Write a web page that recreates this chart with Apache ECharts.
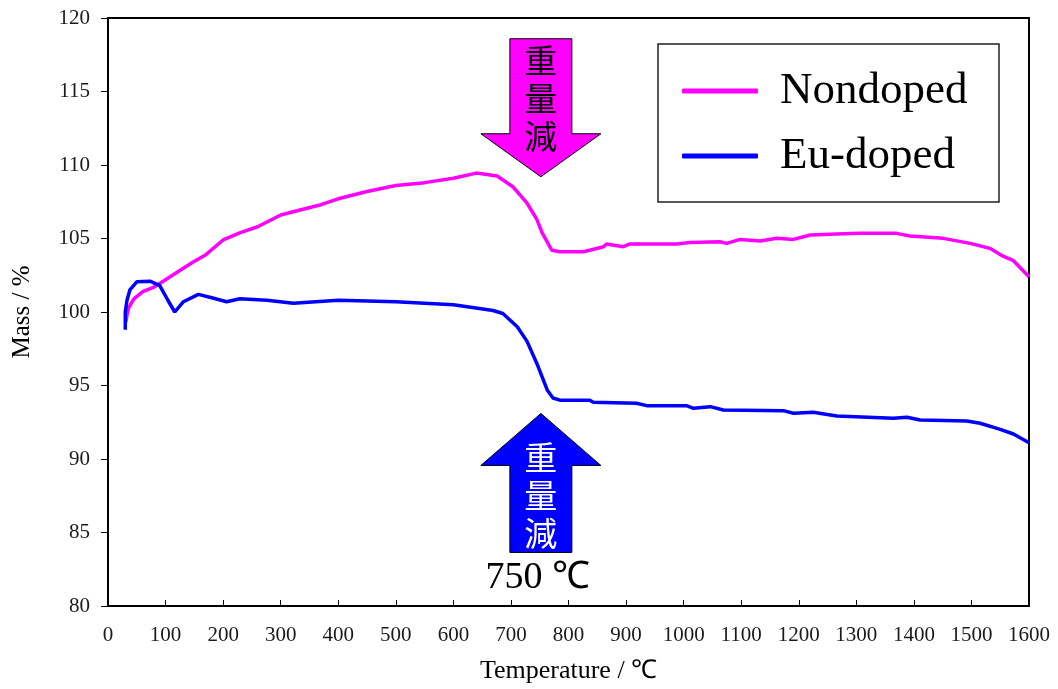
<!DOCTYPE html>
<html><head><meta charset="utf-8">
<script src="https://cdn.jsdelivr.net/npm/echarts@6/dist/echarts.min.js"></script>
<style>html,body{margin:0;padding:0;background:#fff}#c{width:1058px;height:689px}</style>
</head><body><div id="c"></div>
<script>
const seriesNames = ['Nondoped', 'Eu-doped'];
const nondopedT    = [31, 33, 36, 45, 61, 80, 100, 120, 148, 170, 200, 230, 260, 300, 330, 370, 400, 450, 500, 550, 600, 640, 676, 704, 728, 745, 754, 771, 785, 826, 861, 866, 895, 907, 988, 1011, 1063, 1075, 1098, 1133, 1162, 1191, 1220, 1266, 1306, 1370, 1393, 1451, 1498, 1532, 1555, 1573, 1600];
const nondopedMass = [99.3, 99.8, 100.3, 100.9, 101.4, 101.7, 102.2, 102.7, 103.4, 103.9, 104.9, 105.4, 105.8, 106.6, 106.9, 107.3, 107.7, 108.2, 108.6, 108.8, 109.1, 109.45, 109.25, 108.5, 107.4, 106.3, 105.4, 104.2, 104.1, 104.1, 104.44, 104.63, 104.44, 104.63, 104.63, 104.72, 104.78, 104.67, 104.94, 104.83, 105.01, 104.94, 105.24, 105.31, 105.35, 105.35, 105.17, 105.01, 104.67, 104.33, 103.8, 103.49, 102.4];
const euT    = [30, 30, 33, 38, 50, 73, 90, 104, 116, 131, 157, 182, 206, 229, 276, 322, 400, 500, 600, 669, 686, 711, 728, 745, 763, 773, 785, 837, 843, 918, 936, 1005, 1017, 1046, 1069, 1173, 1191, 1225, 1266, 1364, 1388, 1411, 1492, 1515, 1550, 1573, 1600];
const euMass = [98.8, 100.0, 100.8, 101.5, 102.05, 102.1, 101.8, 100.8, 100.0, 100.7, 101.2, 100.95, 100.7, 100.9, 100.8, 100.6, 100.8, 100.7, 100.5, 100.1, 99.9, 99.0, 98.0, 96.5, 94.7, 94.15, 94.0, 94.0, 93.86, 93.79, 93.63, 93.63, 93.45, 93.56, 93.33, 93.29, 93.11, 93.18, 92.93, 92.77, 92.84, 92.65, 92.59, 92.43, 92.02, 91.7, 91.1];
const xTicks = {min: 0, max: 1600, step: 100};
const yTicks = {min: 80, max: 120, step: 5};
const annotationT = 752;
const pinkArrowTipMass = 109.2;
const blueArrowTipMass = 93.1;
const arrowText = '重\n量\n減';
const tempLabel = '750 ℃';

const serif = '"Liberation Serif", "Times New Roman", serif';
const cjk = '"Noto Sans CJK JP", sans-serif';
const chart = echarts.init(document.getElementById('c'), null, {renderer: 'canvas'});
const zip = (a, b) => a.map((v, i) => [v, b[i]]);

chart.setOption({
  animation: false,
  grid: {left: 108, right: 29, top: 18, bottom: 83, show: true, borderColor: '#000', borderWidth: 2, backgroundColor: 'transparent', containLabel: false, outerBoundsMode: 'none'},
  xAxis: {
    type: 'value', min: xTicks.min, max: xTicks.max, interval: xTicks.step,
    name: 'Temperature / ℃', nameLocation: 'middle', nameGap: 52,
    nameTextStyle: {fontFamily: serif, fontSize: 26, color: '#000'},
    axisLine: {show: true, lineStyle: {color: '#000', width: 2}},
    axisTick: {show: true, inside: true, length: 6, lineStyle: {color: '#000', width: 1}},
    axisLabel: {margin: 19, fontFamily: serif, fontSize: 21, color: '#1a1a1a', formatter: v => String(v), hideOverlap: false},
    splitLine: {show: false}
  },
  yAxis: {
    type: 'value', min: yTicks.min, max: yTicks.max, interval: yTicks.step,
    name: 'Mass / %', nameLocation: 'middle', nameGap: 73, nameRotate: 90,
    nameTextStyle: {fontFamily: serif, fontSize: 25, color: '#000'},
    axisLine: {show: true, lineStyle: {color: '#000', width: 2}},
    axisTick: {show: true, inside: false, length: 7, lineStyle: {color: '#000', width: 1}},
    axisLabel: {margin: 18, fontFamily: serif, fontSize: 21, color: '#1a1a1a', formatter: v => String(v)},
    splitLine: {show: false}
  },
  legend: {
    show: true, orient: 'vertical', left: 682, top: 68, padding: 0,
    itemWidth: 76, itemHeight: 5, itemGap: 19, icon: 'roundRect',
    textStyle: {fontFamily: serif, fontSize: 45, lineHeight: 46, color: '#000', padding: [0, 0, 0, 17]},
    data: seriesNames
  },
  series: [
    {name: seriesNames[0], type: 'line', data: zip(nondopedT, nondopedMass), showSymbol: false, symbol: 'none',
     lineStyle: {color: '#FF00FF', width: 3.5}, itemStyle: {color: '#FF00FF'}},
    {name: seriesNames[1], type: 'line', data: zip(euT, euMass), showSymbol: false, symbol: 'none',
     lineStyle: {color: '#0000FF', width: 3.5}, itemStyle: {color: '#0000FF'}}
  ]
});

function arrowPoints(tip, dir, bodyHalf, headHalf, headH, totalH) {
  const [x, y] = tip;
  const s = dir < 0 ? -1 : 1;
  const hb = y + s * headH, end = y + s * totalH;
  return [[x, y], [x + headHalf, hb], [x + bodyHalf, hb], [x + bodyHalf, end], [x - bodyHalf, end], [x - bodyHalf, hb], [x - headHalf, hb]];
}
const pTip = chart.convertToPixel({gridIndex: 0}, [annotationT, pinkArrowTipMass]);
const bTip = chart.convertToPixel({gridIndex: 0}, [annotationT, blueArrowTipMass]);
chart.setOption({
  graphic: [
    {type: 'rect', shape: {x: 658, y: 44, width: 341, height: 158}, style: {fill: 'none', stroke: '#222', lineWidth: 1.5}, z: 10},
    {type: 'polygon', shape: {points: arrowPoints(pTip, -1, 31, 60, 43, 138)}, style: {fill: '#FF00FF', stroke: '#000', lineWidth: 1}, z: 10},
    {type: 'text', x: pTip[0], y: pTip[1] - 135, style: {text: arrowText, fontFamily: cjk, fontSize: 33, lineHeight: 38, fill: '#000', align: 'center', verticalAlign: 'top'}, z: 11},
    {type: 'polygon', shape: {points: arrowPoints(bTip, 1, 31, 60, 52, 139)}, style: {fill: '#0000FF', stroke: '#000', lineWidth: 1}, z: 10},
    {type: 'text', x: bTip[0], y: bTip[1] + 25, style: {text: arrowText, fontFamily: cjk, fontSize: 33, lineHeight: 38, fill: '#fff', align: 'center', verticalAlign: 'top'}, z: 11},
    {type: 'text', x: bTip[0] - 3, y: bTip[1] + 165, style: {text: tempLabel, fontFamily: serif, fontSize: 38, fill: '#000', align: 'center', verticalAlign: 'middle'}, z: 11}
  ]
});
</script></body></html>
